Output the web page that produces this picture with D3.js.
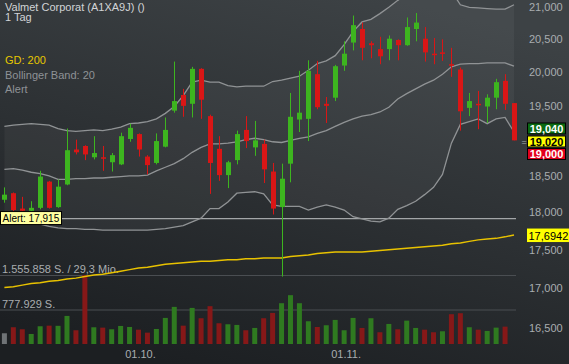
<!DOCTYPE html>
<html>
<head>
<meta charset="utf-8">
<script src="https://cdn.jsdelivr.net/npm/d3@7"></script>
<style>
    html, body { margin: 0; padding: 0; background: #26292c; }
    svg { display: block; font-family: "Liberation Sans", Arial, sans-serif; }
</style>
</head>
<body>
<svg id="chart"></svg>
<script>
const dates = [
    "2024-09-10", "2024-09-11", "2024-09-12", "2024-09-13", "2024-09-16", "2024-09-17", "2024-09-18", "2024-09-19",
    "2024-09-20", "2024-09-23", "2024-09-24", "2024-09-25", "2024-09-26", "2024-09-27", "2024-09-30",
    "2024-10-01", "2024-10-02", "2024-10-03", "2024-10-04", "2024-10-07", "2024-10-08", "2024-10-09", "2024-10-10",
    "2024-10-11", "2024-10-14", "2024-10-15", "2024-10-16", "2024-10-17", "2024-10-18", "2024-10-21", "2024-10-22",
    "2024-10-23", "2024-10-24", "2024-10-25", "2024-10-28", "2024-10-29", "2024-10-30", "2024-10-31",
    "2024-11-01", "2024-11-04", "2024-11-05", "2024-11-06", "2024-11-07", "2024-11-08", "2024-11-11", "2024-11-12",
    "2024-11-13", "2024-11-14", "2024-11-15", "2024-11-18", "2024-11-19", "2024-11-20", "2024-11-21", "2024-11-22",
    "2024-11-25", "2024-11-26", "2024-11-27", "2024-11-28"
];

const opens = [
    18.17, 18.26, 18.05, 18.02, 18.06, 18.42, 18.07, 18.38, 18.87, 18.92,
    18.76, 18.76, 18.69, 18.66, 19.02, 19.09, 18.77, 18.68, 18.91, 19.43,
    19.66, 19.53, 20.05, 19.35, 18.88, 18.51, 18.72, 19.15, 18.90, 18.95,
    18.56, 18.07, 18.67, 19.30, 19.31, 19.97, 19.53, 19.62, 20.10, 20.45,
    20.66, 20.44, 20.35, 20.35, 20.49, 20.41, 20.66, 20.51, 20.28, 20.30,
    20.12, 20.04, 19.47, 19.53, 19.49, 19.62, 19.87, 19.54
];
const highs = [
    18.34, 18.27, 18.21, 18.15, 18.57, 18.43, 18.45, 19.17, 19.01, 18.93,
    19.06, 18.92, 18.82, 19.11, 19.24, 19.10, 18.79, 19.10, 19.33, 20.16,
    19.75, 20.08, 20.06, 19.37, 19.06, 18.71, 19.14, 19.35, 19.28, 19.01,
    18.68, 18.67, 19.69, 20.02, 20.18, 20.17, 19.63, 20.11, 20.47, 20.87,
    20.76, 20.47, 20.54, 20.56, 20.50, 20.84, 20.91, 20.69, 20.52, 20.50,
    20.37, 20.07, 19.69, 19.72, 19.67, 19.90, 19.97, 19.54
];
const lows = [
    18.13, 18.00, 17.98, 17.99, 18.04, 18.05, 18.06, 18.37, 18.80, 18.72,
    18.73, 18.57, 18.56, 18.65, 18.98, 18.77, 18.52, 18.66, 18.90, 19.40,
    19.34, 19.33, 19.31, 18.25, 18.43, 18.33, 18.66, 18.89, 18.78, 18.40,
    17.97, 17.15, 18.41, 19.12, 18.99, 19.45, 19.25, 19.57, 20.02, 20.33,
    20.18, 20.21, 20.12, 20.18, 20.18, 20.40, 20.47, 20.16, 20.12, 20.17,
    19.93, 19.14, 19.35, 19.16, 19.25, 19.45, 19.44, 19.00
];
const closes = [
    18.24, 18.03, 18.02, 18.06, 18.49, 18.06, 18.35, 18.86, 18.83, 18.80,
    18.82, 18.74, 18.79, 19.06, 19.18, 18.87, 18.65, 18.99, 19.15, 19.57,
    19.50, 20.05, 19.59, 18.68, 18.51, 18.69, 19.09, 18.99, 19.00, 18.59,
    18.05, 18.46, 19.34, 19.40, 20.02, 19.48, 19.50, 20.09, 20.28, 20.72,
    20.37, 20.41, 20.24, 20.51, 20.41, 20.69, 20.76, 20.30, 20.26, 20.28,
    20.10, 19.42, 19.57, 19.52, 19.62, 19.85, 19.53, 19.00
];
// no volume yet for the last day
const volumes = [
    242000, 378000, 332000, 226000, 400000, 414000, 410000, 633000, 310000, 1555858,
    377000, 369000, 332000, 407000, 384000, 323000, 256000, 339000, 588000, 837000,
    414000, 814000, 581000, 853000, 468000, 445000, 430000, 310000, 362000, 581000,
    701000, 920000, 1101000, 920000, 513000, 384000, 423000, 543000, 310000, 588000,
    362000, 581000, 265000, 452000, 332000, 527000, 362000, 323000, 265000, 287000,
    672000, 694000, 378000, 323000, 294000, 369000, 391000
];
const gd200 = [
    17.01, 17.02, 17.04, 17.06, 17.07, 17.09, 17.10, 17.12, 17.13, 17.15,
    17.17, 17.18, 17.20, 17.22, 17.24, 17.26, 17.27, 17.29, 17.31, 17.32,
    17.33, 17.34, 17.35, 17.35, 17.36, 17.37, 17.37, 17.38, 17.38, 17.39,
    17.39, 17.39, 17.41, 17.42, 17.43, 17.45, 17.46, 17.47, 17.47, 17.47,
    17.47, 17.48, 17.49, 17.50, 17.51, 17.52, 17.53, 17.54, 17.55, 17.56,
    17.58, 17.59, 17.61, 17.63, 17.64, 17.65, 17.67, 17.6942
];
const bbUpper = [
    19.20, 19.22, 19.23, 19.24, 19.23, 19.22, 19.17, 19.14, 19.13, 19.14,
    19.15, 19.14, 19.16, 19.19, 19.24, 19.25, 19.27, 19.31, 19.39, 19.49,
    19.65, 19.85, 19.88, 19.85, 19.85, 19.80, 19.78, 19.79, 19.79, 19.79,
    19.86, 19.88, 19.91, 19.94, 20.03, 20.13, 20.17, 20.25, 20.42, 20.62,
    20.77, 20.81, 20.90, 21.00, 21.11, 21.21, 21.27, 21.30, 21.32, 21.30,
    21.26, 21.04, 21.00, 20.99, 20.98, 20.97, 20.97, 21.04
];
const bbMiddle = [
    18.59, 18.60, 18.58, 18.55, 18.53, 18.50, 18.45, 18.45, 18.46, 18.46,
    18.47, 18.47, 18.48, 18.49, 18.50, 18.50, 18.51, 18.57, 18.62, 18.67,
    18.74, 18.83, 18.90, 18.95, 18.95, 18.96, 18.98, 19.01, 19.03, 19.01,
    18.98, 18.97, 19.00, 19.03, 19.05, 19.10, 19.14, 19.20, 19.26, 19.31,
    19.35, 19.37, 19.41, 19.48, 19.60, 19.68, 19.75, 19.82, 19.88, 19.97,
    20.08, 20.12, 20.13, 20.13, 20.14, 20.14, 20.14, 20.09
];
const bbLower = [
    17.98, 17.95, 17.91, 17.87, 17.84, 17.81, 17.79, 17.78, 17.78, 17.77,
    17.77, 17.76, 17.76, 17.76, 17.76, 17.76, 17.76, 17.77, 17.78, 17.80,
    17.82, 17.87, 17.92, 18.05, 18.05, 18.14, 18.26, 18.27, 18.28, 18.25,
    18.10, 18.08, 18.08, 18.08, 18.03, 18.07, 18.10, 18.07, 18.03, 17.94,
    17.91, 17.88, 17.87, 17.92, 18.04, 18.09, 18.15, 18.24, 18.34, 18.52,
    18.96, 19.23, 19.27, 19.31, 19.24, 19.31, 19.33, 19.12
];

const priceTicks = [16.5, 17, 17.5, 18, 18.5, 19.5, 20, 20.5, 21];
const dateTicks = ["2024-10-01", "2024-11-01"];
const alertLevel = 17.915;
const quoteAsk = 19.040, quoteMid = 19.020, quoteBid = 19.000;
const turnoverMio = 29.3;
const legendItems = ["GD: 200", "Bollinger Band: 20", "Alert"];

const locale = d3.formatLocale({ decimal: ",", thousands: ".", grouping: [3], currency: ["", " €"] });

class CandleChart {

    constructor(_config) {
        this.config = {
            parentElement: _config.parentElement,
            containerWidth: _config.containerWidth || 569,
            containerHeight: _config.containerHeight || 364,
            plotRight: 516
        }
        this.initVis();
        this.renderVis();
    }

    initVis() {
        let vis = this;

        vis.svg = d3.select(vis.config.parentElement)
            .attr('width', vis.config.containerWidth)
            .attr('height', vis.config.containerHeight);

        let defs = vis.svg.append('defs');
        let grad = defs.append('linearGradient')
            .attr('id', 'bg')
            .attr('x1', '0.7').attr('y1', '0')
            .attr('x2', '0.3').attr('y2', '1');
        grad.append('stop').attr('offset', '0%').attr('stop-color', '#3d4245');
        grad.append('stop').attr('offset', '100%').attr('stop-color', '#1c1f22');

        vis.svg.append('rect')
            .attr('width', vis.config.containerWidth)
            .attr('height', vis.config.containerHeight)
            .attr('fill', 'url(#bg)');

        vis.xScale = d3.scalePoint()
            .domain(dates)
            .range([4.4, 514]);

        vis.yScale = d3.scaleLog()
            .domain([16.5, 21])
            .range([327.95, 7.3]);

        vis.volScale = d3.scaleLinear()
            .domain([0, d3.max(volumes)])
            .range([344, 275]);

        vis.priceFmt = v => locale.format('.3f')(v);
    }

    renderVis() {
        let vis = this;
        const x = (d, i) => vis.xScale(dates[i]);
        const idx = d3.range(dates.length);
        const right = vis.config.plotRight;

        // bollinger band area
        vis.svg.append('path')
            .datum(idx)
            .attr('fill', 'rgba(255,255,255,0.045)')
            .attr('d', d3.area()
                .x(i => vis.xScale(dates[i]))
                .y0(i => vis.yScale(bbLower[i]))
                .y1(i => vis.yScale(bbUpper[i])));

        // volume grid
        const volMax = d3.max(volumes);
        vis.svg.selectAll('.vol-grid')
            .data([volMax, volMax / 2])
            .join('line')
            .attr('x1', 0).attr('x2', right)
            .attr('y1', d => vis.volScale(d) + 0.5)
            .attr('y2', d => vis.volScale(d) + 0.5)
            .attr('stroke', '#4a4e52')
            .attr('stroke-width', 1);

        vis.svg.append('text')
            .attr('x', 2).attr('y', vis.volScale(volMax) - 2)
            .attr('fill', '#a9adb0').attr('font-size', 11)
            .text(`${locale.format(',d')(volMax)} S. / ${locale.format('.1f')(turnoverMio)} Mio.`);
        vis.svg.append('text')
            .attr('x', 2).attr('y', vis.volScale(volMax / 2) - 2)
            .attr('fill', '#a9adb0').attr('font-size', 11)
            .text(`${locale.format(',d')(Math.round(volMax / 2))} S.`);

        vis.svg.selectAll('.vol')
            .data(volumes)
            .join('rect')
            .attr('x', (d, i) => x(d, i) - 2.5)
            .attr('y', d => vis.volScale(d))
            .attr('width', 5)
            .attr('height', d => vis.volScale(0) - vis.volScale(d))
            .attr('fill', (d, i) => {
                if (i == 0) return '#6f7376';
                return closes[i] >= closes[i - 1] ? '#2f7a20' : '#861818';
            });

        // alert line
        vis.svg.append('line')
            .attr('x1', 0).attr('x2', right)
            .attr('y1', vis.yScale(alertLevel)).attr('y2', vis.yScale(alertLevel))
            .attr('stroke', '#a3a6a8').attr('stroke-width', 1.2);

        // bollinger lines
        [bbUpper, bbMiddle, bbLower].forEach(series => {
            vis.svg.append('path')
                .datum(series)
                .attr('fill', 'none')
                .attr('stroke', '#909395')
                .attr('stroke-width', 1.3)
                .attr('d', d3.line()
                    .x((d, i) => x(d, i))
                    .y(d => vis.yScale(d)));
        });

        // GD 200
        vis.svg.append('path')
            .datum(gd200)
            .attr('fill', 'none')
            .attr('stroke', '#e8c200')
            .attr('stroke-width', 1.5)
            .attr('d', d3.line()
                .x((d, i) => x(d, i))
                .y(d => vis.yScale(d)));

        // candles
        let candles = vis.svg.selectAll('.candle')
            .data(idx)
            .join('g')
            .attr('class', 'candle');

        const col = i => closes[i] >= opens[i] ? '#3db51f' : '#d91616';

        candles.append('line')
            .attr('x1', i => Math.round(vis.xScale(dates[i])) + 0.5)
            .attr('x2', i => Math.round(vis.xScale(dates[i])) + 0.5)
            .attr('y1', i => vis.yScale(highs[i]))
            .attr('y2', i => vis.yScale(lows[i]))
            .attr('stroke', col)
            .attr('stroke-width', 1);

        candles.append('rect')
            .attr('x', i => Math.round(vis.xScale(dates[i])) - 2)
            .attr('y', i => vis.yScale(Math.max(opens[i], closes[i])))
            .attr('width', 5)
            .attr('height', i => Math.max(1.5, Math.abs(vis.yScale(opens[i]) - vis.yScale(closes[i]))))
            .attr('fill', col);

        // price axis
        let yAxis = d3.axisRight(vis.yScale)
            .tickValues(priceTicks)
            .tickSize(0)
            .tickPadding(0)
            .tickFormat(vis.priceFmt);

        vis.svg.append('g')
            .attr('class', 'y axis')
            .attr('transform', 'translate(529,0)')
            .call(yAxis)
            .call(g => g.select('.domain').remove())
            .call(g => g.selectAll('text')
                .attr('fill', '#a9adb0')
                .attr('font-size', 11)
                .attr('font-family', '"Liberation Sans", Arial, sans-serif'));

        // date axis
        let xAxis = d3.axisBottom(vis.xScale)
            .tickValues(dateTicks)
            .tickSize(0)
            .tickPadding(0)
            .tickFormat(d => d3.timeFormat('%d.%m.')(d3.timeParse('%Y-%m-%d')(d)));

        vis.svg.append('g')
            .attr('class', 'x axis')
            .attr('transform', 'translate(1.5,350)')
            .call(xAxis)
            .call(g => g.select('.domain').remove())
            .call(g => g.selectAll('text')
                .attr('fill', '#a9adb0')
                .attr('font-size', 11)
                .attr('font-family', '"Liberation Sans", Arial, sans-serif'));

        // quote boxes
        const yMid = vis.yScale(quoteMid) + 2.5;
        const boxes = [
            { v: quoteAsk, cy: yMid - 13, fill: '#0b6a12', text: '#ffffff' },
            { v: quoteMid, cy: yMid, fill: '#ffff00', text: '#000000' },
            { v: quoteBid, cy: yMid + 12.5, fill: '#e3001b', text: '#ffffff' }
        ];
        boxes.forEach(b => {
            vis.svg.append('rect')
                .attr('x', 527.5).attr('y', b.cy - 5.5)
                .attr('width', 38).attr('height', 11)
                .attr('fill', b.fill)
                .attr('stroke', '#000').attr('stroke-width', 1);
            vis.svg.append('text')
                .attr('x', 546.5).attr('y', b.cy + 4.5)
                .attr('text-anchor', 'middle')
                .attr('font-size', 11).attr('font-weight', 'bold')
                .attr('fill', b.text)
                .text(vis.priceFmt(b.v));
        });
        vis.svg.append('text')
            .attr('x', 521.5).attr('y', yMid + 3.5)
            .attr('font-size', 9).attr('fill', '#a9adb0')
            .text('=');

        // GD 200 last value
        const gdLast = gd200[gd200.length - 1];
        const gy = vis.yScale(gdLast);
        vis.svg.append('rect')
            .attr('x', 527).attr('y', gy - 6.5)
            .attr('width', 42).attr('height', 13.5)
            .attr('fill', '#ffff00');
        vis.svg.append('text')
            .attr('x', 528.5).attr('y', gy + 4.5)
            .attr('font-size', 11).attr('fill', '#000')
            .text(locale.format('.4f')(gdLast));

        // alert label
        const ay = vis.yScale(alertLevel);
        vis.svg.append('rect')
            .attr('x', 0.5).attr('y', ay - 7)
            .attr('width', 61).attr('height', 13)
            .attr('fill', '#ffffa0')
            .attr('stroke', '#000').attr('stroke-width', 1);
        vis.svg.append('text')
            .attr('x', 2.5).attr('y', ay + 3.5)
            .attr('font-size', 10).attr('fill', '#000')
            .text(`Alert: ${vis.priceFmt(alertLevel)}`);

        // titles and legend
        vis.svg.append('text')
            .attr('x', 5).attr('y', 10.5)
            .attr('font-size', 11).attr('fill', '#d2d4d6')
            .text('Valmet Corporat (A1XA9J) ()');
        vis.svg.append('text')
            .attr('x', 5).attr('y', 21)
            .attr('font-size', 11).attr('fill', '#d2d4d6')
            .text('1 Tag');

        vis.svg.selectAll('.legend')
            .data(legendItems)
            .join('text')
            .attr('x', 5)
            .attr('y', (d, i) => 64 + i * 14.5)
            .attr('font-size', 11)
            .attr('fill', (d, i) => i == 0 ? '#e6c700' : '#8e9296')
            .text(d => d);
    }
}

new CandleChart({ parentElement: '#chart' });
</script>
</body>
</html>
